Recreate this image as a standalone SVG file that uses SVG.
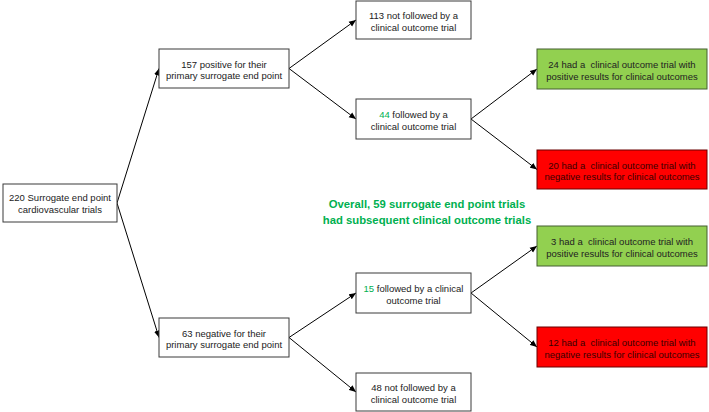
<svg xmlns="http://www.w3.org/2000/svg" width="709" height="412" viewBox="0 0 709 412">
<defs>
<marker id="ah" viewBox="0 0 10 10" refX="10" refY="5" markerWidth="7" markerHeight="7" orient="auto" markerUnits="userSpaceOnUse"><path d="M0,0.8 L10,5 L0,9.2 z" fill="#000"/></marker>
<style>
.box{fill:#fff;stroke:#3a3a3a;stroke-width:1}
.pos{fill:#92D050;stroke:#455f30;stroke-width:1}
.neg{fill:#FF0000;stroke:#6a0000;stroke-width:1}
text{font-family:"Liberation Sans",Arial,sans-serif;font-size:9.5px;fill:#222;text-anchor:middle}
.rt{fill:#3a0000}
.gn{fill:#00B050}
.big{font-size:11.3px;font-weight:bold;fill:#00B050}
.con line{stroke:#000;stroke-width:1;marker-end:url(#ah)}
</style>
</defs>
<rect width="709" height="412" fill="#fff"/>
<g class="con" id="connectors">
<line x1="117" y1="203" x2="159" y2="68.5"/>
<line x1="117" y1="203" x2="159" y2="337.5"/>
<line x1="289" y1="68.5" x2="356" y2="20"/>
<line x1="289" y1="68.5" x2="356" y2="119"/>
<line x1="471" y1="119" x2="537" y2="69"/>
<line x1="471" y1="119" x2="537" y2="169.5"/>
<line x1="289" y1="337.5" x2="356" y2="293"/>
<line x1="289" y1="337.5" x2="356" y2="392"/>
<line x1="471" y1="293" x2="537" y2="246"/>
<line x1="471" y1="293" x2="537" y2="347"/>
</g>
<g id="n220"><rect class="box" x="3" y="184" width="114" height="38"/><text x="60" y="201">220 Surrogate end point</text><text x="60" y="212.5">cardiovascular trials</text></g>
<g id="n157"><rect class="box" x="159" y="49" width="130" height="39"/><text x="224" y="67.5">157 positive for their</text><text x="224" y="79">primary surrogate end point</text></g>
<g id="n63"><rect class="box" x="159" y="318" width="130" height="39"/><text x="224" y="336.5">63 negative for their</text><text x="224" y="348">primary surrogate end point</text></g>
<g id="n113"><rect class="box" x="356" y="1" width="115" height="38"/><text x="413.5" y="19">113 not followed by a</text><text x="413.5" y="30.5">clinical outcome trial</text></g>
<g id="n44"><rect class="box" x="356" y="99" width="115" height="40"/><text x="413.5" y="118"><tspan class="gn">44</tspan> followed by a</text><text x="413.5" y="129.5">clinical outcome trial</text></g>
<g id="n15"><rect class="box" x="356" y="273" width="115" height="40"/><text x="413.5" y="292"><tspan class="gn">15</tspan> followed by a clinical</text><text x="413.5" y="303.5">outcome trial</text></g>
<g id="n48"><rect class="box" x="356" y="373" width="115" height="38"/><text x="413.5" y="391">48 not followed by a</text><text x="413.5" y="402.5">clinical outcome trial</text></g>
<g id="n24"><rect class="pos" x="537" y="49" width="170" height="40"/><text x="622" y="68" xml:space="preserve">24 had a  clinical outcome trial with</text><text x="622" y="79.5">positive results for clinical outcomes</text></g>
<g id="n20"><rect class="neg" x="537" y="150" width="170" height="39"/><text class="rt" x="622" y="168.5" xml:space="preserve">20 had a  clinical outcome trial with</text><text class="rt" x="622" y="180">negative results for clinical outcomes</text></g>
<g id="n3"><rect class="pos" x="537" y="226" width="170" height="40"/><text x="622" y="245" xml:space="preserve">3 had a  clinical outcome trial with</text><text x="622" y="256.5">positive results for clinical outcomes</text></g>
<g id="n12"><rect class="neg" x="537" y="327" width="170" height="40"/><text class="rt" x="622" y="346" xml:space="preserve">12 had a  clinical outcome trial with</text><text class="rt" x="622" y="357.5">negative results for clinical outcomes</text></g>
<g id="overall"><text class="big" x="427" y="208">Overall, 59 surrogate end point trials</text><text class="big" x="427" y="224">had subsequent clinical outcome trials</text></g>
</svg>
